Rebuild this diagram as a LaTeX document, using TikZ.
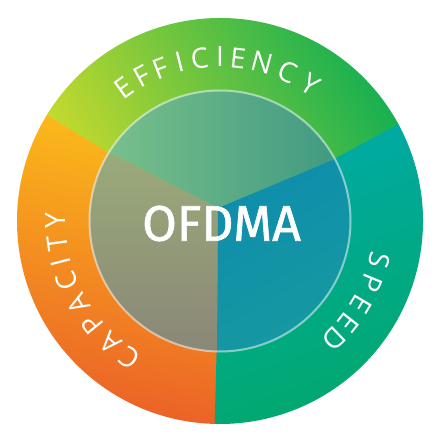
\documentclass[tikz,border=0pt]{standalone}
\usepackage{fontspec}
\setmainfont{Open Sans}
\newfontfamily\ofdmafont{Fira Sans}[FakeBold=1.2]
\definecolor{effL}{HTML}{C2D92E}
\definecolor{effR}{HTML}{12AE52}
\definecolor{spdT}{HTML}{00AAA6}
\definecolor{spdB}{HTML}{02A86A}
\definecolor{capT}{HTML}{FBBC1A}
\definecolor{capB}{HTML}{EB6027}
\definecolor{inTL}{HTML}{80C48C}
\definecolor{inTR}{HTML}{3A9681}
\definecolor{inLT}{HTML}{9BAD7A}
\definecolor{inLB}{HTML}{898577}
\definecolor{inRT}{HTML}{0E8DAC}
\definecolor{inRB}{HTML}{179AA0}
\tikzset{
  arcletter/.style={text=white, inner sep=0, anchor=base,
      font=\fontsize{28}{28}\selectfont},
}
\begin{document}
\begin{tikzpicture}[x=1pt,y=1pt]
\useasboundingbox (-220,-220) rectangle (218,221);
% outer sectors
\path[top color=capT, bottom color=capB, shading angle=-10]
  (0,0) -- (269:203) arc[start angle=269, end angle=147.5, radius=203] -- cycle;
\path[bottom color=effL, top color=effR, shading angle=-60]
  (0,0) -- (148.5:203) arc[start angle=148.5, end angle=28, radius=203] -- cycle;
\path[top color=spdT, bottom color=spdB, shading angle=20]
  (0,0) -- (28.5:203) arc[start angle=28.5, end angle=-91.5, radius=203] -- cycle;
% inner disc
\begin{scope}
  \clip (0,0) circle[radius=130.5];
  \coordinate (p0) at (-2,13);
  \coordinate (pl) at (-126.7,76.6);
  \coordinate (pr) at (127.2,67);
  \coordinate (pb) at (-3,-140);
  \path[left color=inTL, right color=inTR]
    (p0) -- (pl) -- (-140,80) -- (-140,140) -- (140,140) -- (140,70) -- (pr) -- cycle;
  \path[top color=inLT, bottom color=inLB]
    (p0) -- (pb) -- (-140,-140) -- (-140,80) -- (pl) -- cycle;
  \path[top color=inRT, bottom color=inRB, shading angle=30]
    (p0) -- (pr) -- (140,70) -- (140,-140) -- (pb) -- cycle;
\end{scope}
\draw[white, opacity=0.5, line width=2] (0,0) circle[radius=130.5];
% labels, letter by letter along the ring
\foreach \l/\a [count=\i] in {E/125.9, F/118.3, F/111.2, I/104.3, C/97.1, I/90.0, E/83.7, N/75.2, C/65.7, Y/56.3}
  \node[arcletter, rotate=\a-90] (eff\i) at (\a:154) {\l};
\foreach \l/\a [count=\i] in {S/-13.8, P/-22.4, E/-30.6, E/-38.2, D/-46.1}
  \node[arcletter, rotate=\a-90] (spd\i) at (\a:154) {\l};
\foreach \l/\a [count=\i] in {C/236.6, A/227.8, P/219.1, A/210.4, C/201.5, I/194.5, T/187.9, Y/179.9}
  \node[arcletter, rotate=\a-90] (cap\i) at (\a:154) {\l};
\node[text=white, inner sep=0, font=\ofdmafont\fontsize{50}{50}\selectfont] (ofdma) at (1.5,-2.5) {OFDMA};
\end{tikzpicture}
\end{document}
